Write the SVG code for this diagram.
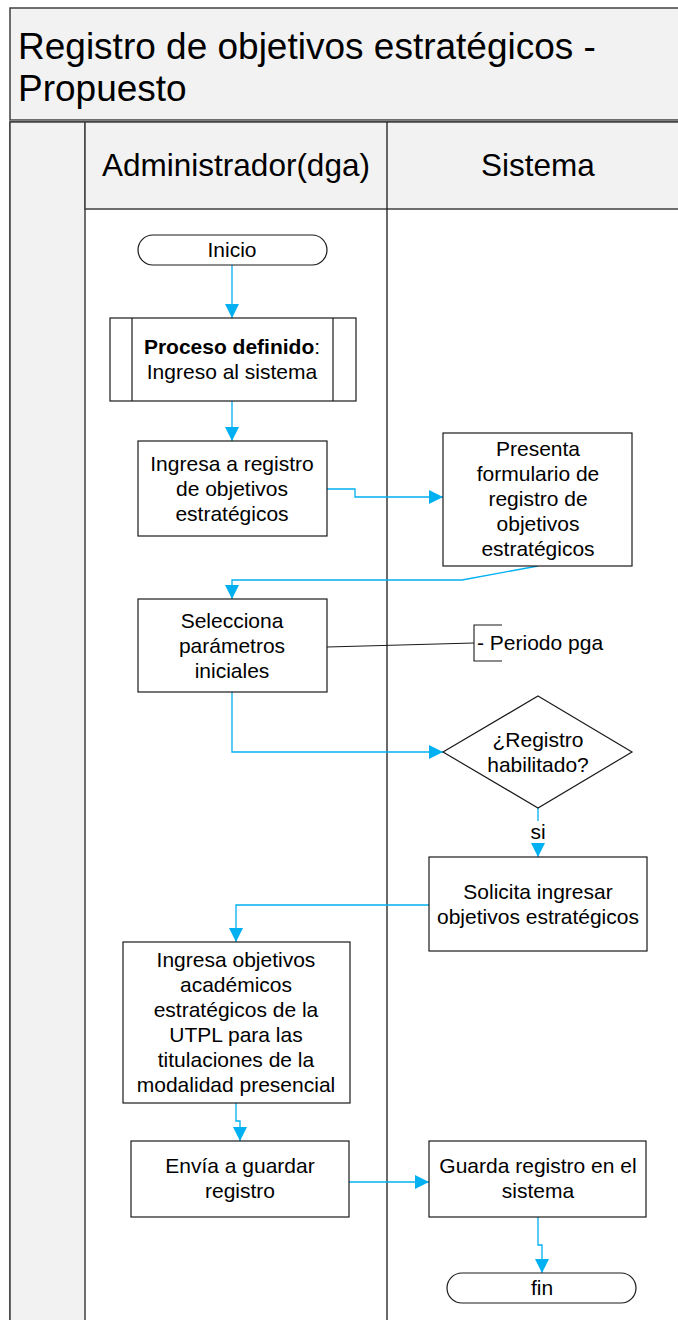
<svg xmlns="http://www.w3.org/2000/svg" width="678" height="1320" viewBox="0 0 678 1320">
<style>
text{font-family:"Liberation Sans",Arial,sans-serif;fill:#000;text-anchor:middle}
.t{font-size:21px}
.box{fill:#fff;stroke:#1a1a1a;stroke-width:1.2}
.frame{stroke:#404040;stroke-width:1.5}
.c{fill:none;stroke:#00b0f0;stroke-width:1.3}
.ann{fill:none;stroke:#1a1a1a;stroke-width:1.1}
</style>
<defs>
<marker id="ah" viewBox="0 0 14 14" refX="14" refY="7" markerWidth="14" markerHeight="14" markerUnits="userSpaceOnUse" orient="auto">
<path d="M0,0 L14,7 L0,14 Z" fill="#00b0f0"/>
</marker>
</defs>
<g id="pool">
<rect x="10" y="8" width="700" height="112" fill="#f2f2f2" class="frame"/>
<text x="18" y="59" style="font-size:37px;text-anchor:start">Registro de objetivos estratégicos -</text>
<text x="18" y="101" style="font-size:37px;text-anchor:start">Propuesto</text>
<line x1="10" y1="121" x2="700" y2="121" stroke="#808080" stroke-width="2"/>
<rect x="10" y="122" width="700" height="1220" fill="#fff" class="frame"/>
<rect x="10" y="122" width="75" height="1220" fill="#f2f2f2" class="frame"/>
<rect x="85" y="122" width="625" height="87" fill="#f2f2f2" class="frame"/>
<line x1="387" y1="122" x2="387" y2="1330" stroke="#1a1a1a" stroke-width="1.3"/>
<text x="236" y="176" style="font-size:31.5px">Administrador(dga)</text>
<text x="538" y="176" style="font-size:31.5px">Sistema</text>
</g>
<g id="connectors">
<path class="c" d="M232,265 L232,318" marker-end="url(#ah)"/>
<path class="c" d="M232,401 L232,441" marker-end="url(#ah)"/>
<path class="c" d="M327,489 L355,489 L355,497 L443,497" marker-end="url(#ah)"/>
<path class="c" d="M538,566 L462,580 L232,580 L232,599" marker-end="url(#ah)"/>
<path class="c" d="M232,692 L232,752 L443,752" marker-end="url(#ah)"/>
<path class="c" d="M538,808 L538,857" marker-end="url(#ah)"/>
<path class="c" d="M429,905 L236,905 L236,942" marker-end="url(#ah)"/>
<path class="c" d="M236,1103 L236,1121 L240,1121 L240,1141" marker-end="url(#ah)"/>
<path class="c" d="M349,1182 L429,1182" marker-end="url(#ah)"/>
<path class="c" d="M538,1217 L538,1245 L542,1245 L542,1273" marker-end="url(#ah)"/>
<rect x="528" y="821" width="20" height="22" fill="#fff"/>
<text class="t" x="538" y="839">si</text>
</g>
<g id="inicio">
<rect class="box" x="138" y="235" width="189" height="30" rx="15"/>
<text class="t" x="232" y="257">Inicio</text>
</g>
<g id="proceso">
<rect class="box" x="110" y="318" width="246" height="83"/>
<line x1="132" y1="318" x2="132" y2="401" stroke="#1a1a1a" stroke-width="1.2"/>
<line x1="333" y1="318" x2="333" y2="401" stroke="#1a1a1a" stroke-width="1.2"/>
<text class="t" x="232" y="354"><tspan font-weight="bold">Proceso definido</tspan>:</text>
<text class="t" x="232" y="379">Ingreso al sistema</text>
</g>
<g id="ingresa">
<rect class="box" x="138" y="441" width="189" height="95"/>
<text class="t" x="232" y="471">Ingresa a registro</text>
<text class="t" x="232" y="496">de objetivos</text>
<text class="t" x="232" y="521">estratégicos</text>
</g>
<g id="presenta">
<rect class="box" x="443" y="433" width="189" height="133"/>
<text class="t" x="538" y="456">Presenta</text>
<text class="t" x="538" y="481">formulario de</text>
<text class="t" x="538" y="506">registro de</text>
<text class="t" x="538" y="531">objetivos</text>
<text class="t" x="538" y="556">estratégicos</text>
</g>
<g id="selecciona">
<rect class="box" x="138" y="599" width="189" height="93"/>
<text class="t" x="232" y="628">Selecciona</text>
<text class="t" x="232" y="653">parámetros</text>
<text class="t" x="232" y="678">iniciales</text>
</g>
<g id="anotacion">
<path class="ann" d="M327,647 L474,643"/>
<path class="ann" d="M502,625 L474,625 L474,661 L502,661"/>
<text class="t" x="477" y="650" style="text-anchor:start">- Periodo pga</text>
</g>
<g id="decision">
<path class="box" d="M538,696 L632,752 L538,808 L443,752 Z"/>
<text class="t" x="538" y="747">¿Registro</text>
<text class="t" x="538" y="772">habilitado?</text>
</g>
<g id="solicita">
<rect class="box" x="429" y="857" width="218" height="94"/>
<text class="t" x="538" y="899">Solicita ingresar</text>
<text class="t" x="538" y="924">objetivos estratégicos</text>
</g>
<g id="ingresa-objetivos">
<rect class="box" x="123" y="942" width="227" height="161"/>
<text class="t" x="236" y="967">Ingresa objetivos</text>
<text class="t" x="236" y="992">académicos</text>
<text class="t" x="236" y="1017">estratégicos de la</text>
<text class="t" x="236" y="1042">UTPL para las</text>
<text class="t" x="236" y="1067">titulaciones de la</text>
<text class="t" x="236" y="1092">modalidad presencial</text>
</g>
<g id="envia">
<rect class="box" x="131" y="1141" width="218" height="76"/>
<text class="t" x="240" y="1173">Envía a guardar</text>
<text class="t" x="240" y="1198">registro</text>
</g>
<g id="guarda">
<rect class="box" x="429" y="1141" width="217" height="76"/>
<text class="t" x="538" y="1173">Guarda registro en el</text>
<text class="t" x="538" y="1198">sistema</text>
</g>
<g id="fin">
<rect class="box" x="447" y="1273" width="189" height="30" rx="15"/>
<text class="t" x="542" y="1295">fin</text>
</g>
</svg>
